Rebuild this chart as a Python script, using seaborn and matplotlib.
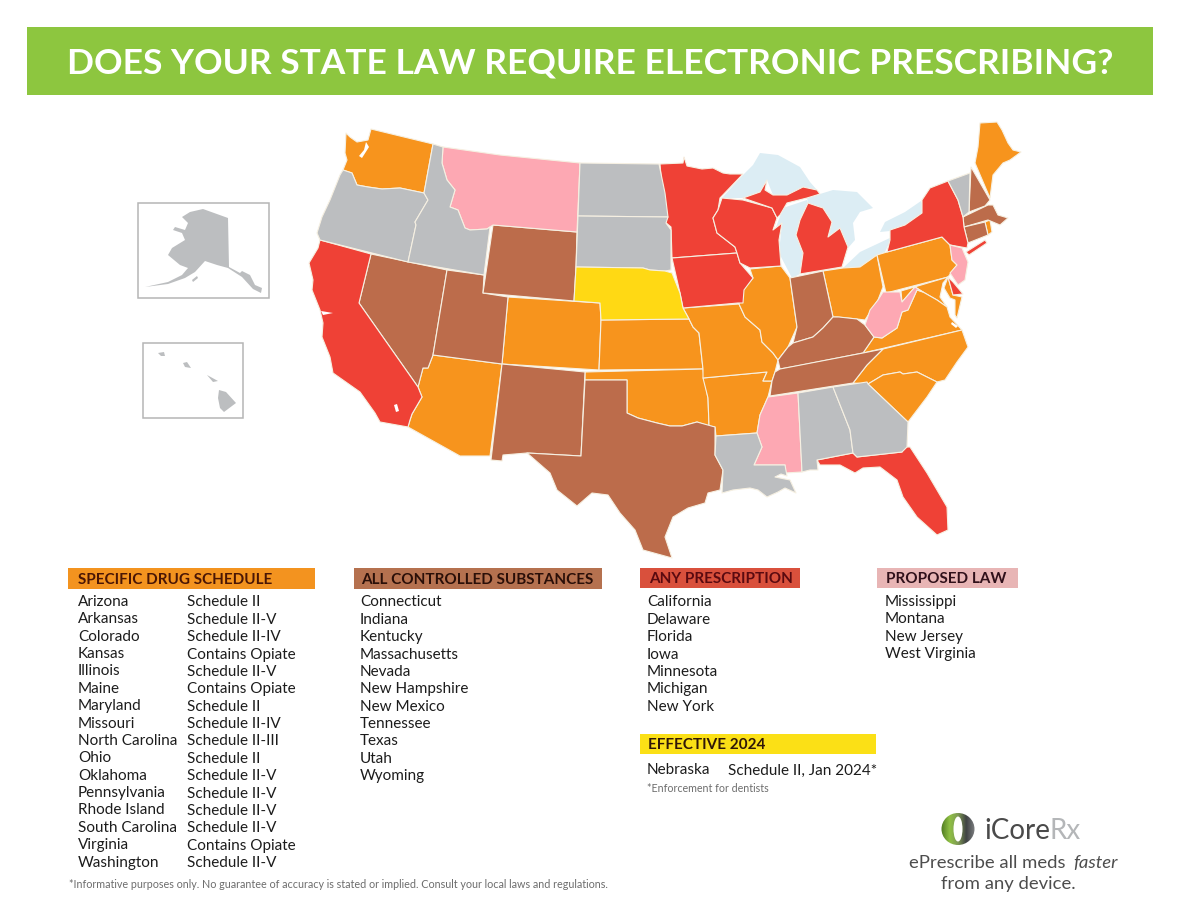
import numpy as np
import matplotlib
matplotlib.use('Agg')
import matplotlib.pyplot as plt
from matplotlib.patches import Ellipse
import seaborn as sns

# outlines, x/y in image pixels
WA = [(346,133),(350,137),(357,142),(368,140),(371,129),(433,144),(424,193),(400,188),(382,189),(368,187),(357,185),(352,173),(343,170),(347,160),(345,153)]
OR = [(343,170),(352,173),(357,185),(368,187),(382,189),(400,188),(424,193),(428,200),(415,222),(416,225),(408,262),(320,240),(317,233),(322,217),(330,200),(340,175)]
ID = [(433,144),(443,147),(442,163),(447,180),(455,190),(450,207),(458,210),(465,228),(470,230),(487,229),(490,227),(484,275),(408,262),(416,225),(415,222),(428,200),(424,193)]
MT = [(443,147),(500,155),(580,163),(577,232),(493,225),(490,227),(487,229),(470,230),(465,228),(458,210),(450,207),(455,190),(447,180),(442,163)]
ND = [(580,163),(659,164),(665,193),(668,217),(578,216)]
SD = [(578,216),(668,217),(666,223),(671,230),(671,270),(665,271),(650,270),(643,268),(576,267)]
WY = [(493,225),(577,232),(576,267),(574,301),(483,293)]
NE = [(576,267),(643,268),(650,270),(665,271),(672,273),(680,293),(683,308),(689,319),(601,320),(600,303),(574,301)]
CO = [(508,297),(600,303),(601,320),(599,370),(502,364)]
KS = [(601,320),(689,319),(693,327),(699,333),(703,369),(599,370)]
UT = [(447,270),(484,275),(483,293),(508,297),(502,364),(433,355)]
NV = [(371,254),(447,270),(433,355),(428,368),(423,368),(418,387),(359,303)]
CA = [(320,240),(371,254),(359,303),(418,387),(422,397),(412,414),(410,420),(408,427),(380,422),(375,413),(360,392),(333,373),(330,357),(322,337),(323,323),(320,310),(312,290),(313,280),(309,263),(318,248)]
AZ = [(433,355),(502,364),(490,456),(460,456),(408,427),(410,420),(412,414),(422,397),(418,387),(423,368),(428,368)]
NM = [(502,364),(585,372),(581,456),(527,453),(503,455),(502,461),(491,460)]
TX = [(585,380),(627,380),(627,413),(638,418),(657,423),(670,426),(682,426),(697,422),(715,427),(715,455),(723,470),(720,490),(708,493),(705,503),(688,508),(673,517),(665,537),(672,558),(643,550),(635,530),(620,513),(608,495),(592,493),(577,506),(557,490),(550,473),(527,453),(581,456)]
OK = [(585,372),(703,369),(704,378),(708,398),(709,426),(697,422),(682,426),(670,426),(657,423),(638,418),(627,413),(627,380),(585,380)]
MN = [(660,164),(683,163),(684,157),(687,166),(702,169),(713,168),(723,173),(730,174),(743,174),(720,198),(718,210),(713,218),(717,233),(735,247),(737,253),(672,258),(671,227),(665,222),(667,215),(662,187)]
IA = [(672,258),(737,253),(740,263),(753,278),(744,290),(743,303),(738,303),(683,308),(680,293)]
WI = [(722,198),(743,200),(772,208),(777,218),(773,230),(782,223),(779,240),(781,266),(750,268),(740,263),(737,253),(735,247),(717,233),(713,218),(718,210)]
MI_UP = [(743,198),(760,192),(767,180),(765,190),(773,195),(787,195),(803,187),(817,190),(820,194),(807,198),(787,203),(780,215),(777,218),(772,208)]
MI_LOW = [(808,203),(823,208),(832,222),(828,237),(840,228),(848,247),(842,267),(800,274),(803,253),(796,235),(800,220)]
IL = [(750,269),(781,266),(790,278),(797,327),(788,347),(778,360),(773,353),(762,342),(760,330),(745,317),(739,304),(743,290),(753,278)]
IN = [(790,278),(823,271),(833,317),(823,328),(813,337),(793,343),(797,327)]
OH = [(823,271),(843,268),(860,267),(877,255),(883,287),(878,300),(865,320),(857,319),(837,317),(833,317)]
KY = [(833,317),(839,317),(857,319),(865,325),(874,337),(863,353),(797,366),(780,369),(778,360),(788,347),(793,343),(813,337),(823,328)]
TN = [(780,369),(863,353),(883,349),(867,365),(853,383),(770,396),(772,381),(775,372)]
MO = [(683,308),(739,304),(745,317),(760,330),(762,342),(773,353),(778,360),(775,372),(772,381),(763,381),(767,372),(703,378),(703,369),(699,333),(693,327),(689,319)]
AR = [(703,378),(767,372),(763,381),(772,381),(768,397),(760,415),(757,433),(716,436),(715,427),(709,426),(708,398)]
LA = [(716,436),(757,433),(762,447),(754,465),(785,465),(787,476),(781,474),(775,477),(790,480),(796,493),(785,488),(778,492),(767,497),(758,490),(750,488),(733,490),(722,493),(723,470),(715,455)]
MS = [(768,397),(798,393),(802,472),(785,473),(785,465),(754,465),(762,447),(757,433),(760,415)]
AL = [(798,393),(833,387),(850,430),(853,453),(817,460),(818,470),(810,470),(802,472)]
GA = [(833,387),(867,382),(868,384),(908,422),(907,447),(902,452),(857,457),(853,453),(850,430)]
FL = [(817,460),(853,453),(857,457),(902,452),(902,447),(910,447),(927,473),(947,507),(948,530),(937,535),(917,517),(903,497),(897,480),(880,467),(863,468),(855,473),(840,465),(820,465)]
SC = [(868,384),(883,375),(900,372),(903,374),(917,372),(937,382),(927,397),(908,422)]
NC = [(883,349),(962,330),(968,347),(957,362),(945,380),(937,382),(917,372),(903,374),(900,372),(883,375),(868,384),(853,383),(867,365)]
VA = [(863,353),(874,337),(882,338),(897,328),(902,312),(908,310),(917,290),(923,292),(937,300),(947,307),(950,317),(962,330)]
WV = [(883,292),(900,292),(902,302),(915,287),(923,292),(917,290),(908,310),(902,312),(897,328),(882,338),(874,337),(865,325),(870,310),(878,300)]
PA = [(877,255),(887,252),(942,237),(950,245),(952,260),(957,265),(948,277),(886,293)]
MD_W = [(901,291),(948,277),(943,283),(940,297),(947,307),(937,300),(923,292),(915,287),(902,302)]
MD_E = [(948,277),(953,295),(962,297),(957,318),(955,315),(955,300),(950,298),(944,288)]
DE = [(948,277),(953,282),(963,294),(953,295)]
NJ = [(950,245),(962,248),(968,262),(965,280),(958,285),(950,273),(957,265),(952,260)]
NY = [(948,181),(958,200),(963,217),(964,227),(968,243),(967,248),(950,245),(942,237),(887,252),(890,240),(890,230),(905,225),(922,213),(922,200),(930,188)]
LONG_ISLAND = [(966,252),(985,240),(987,243),(969,255)]
VT = [(948,181),(970,173),(969,212),(963,217),(958,200)]
NH = [(971,167),(990,200),(985,206),(969,212)]
ME = [(980,123),(997,122),(1002,130),(1008,143),(1013,150),(1021,152),(1010,160),(1003,163),(993,175),(990,198),(975,163),(978,147)]
MA = [(963,217),(988,205),(993,205),(998,215),(1008,218),(1000,225),(988,220),(964,227)]
CT = [(964,227),(985,222),(988,235),(968,243)]
RI = [(985,222),(990,220),(992,232),(988,235)]
AK = [(182,217),(190,212),(203,209),(228,218),(229,267),(240,273),(242,271),(250,275),(255,285),(262,288),(261,293),(253,289),(242,277),(228,268),(217,265),(205,261),(195,272),(185,278),(168,284),(145,287),(168,282),(182,275),(188,268),(180,265),(168,255),(172,248),(185,240),(182,233),(173,230),(175,227),(185,230),(188,223),(183,218)]
KODIAK = [(192,280),(197,276),(198,278),(193,282)]
HI_BIG = [(219,390),(226,392),(236,403),(224,412),(220,408),(218,398)]
HI_MAUI = [(207,375),(218,381),(213,382)]
HI_OAHU = [(183,363),(187,362),(191,368),(185,367)]
HI_KAUAI = [(158,353),(164,352),(165,356),(161,356)]

SUPERIOR = [(722,198),(740,178),(753,165),(760,153),(778,155),(800,167),(810,182),(817,190),(803,187),(787,195),(773,195),(767,180),(760,192),(743,198)]
MICHIGAN = [(807,200),(783,208),(775,230),(782,223),(779,253),(792,278),(800,274),(803,253),(796,235),(800,220),(808,203)]
HURON = [(820,194),(833,190),(857,192),(873,208),(860,212),(853,223),(855,240),(848,248),(840,228),(828,237),(832,222),(823,208),(808,203),(807,198)]
ERIE = [(843,268),(860,252),(892,237),(885,252),(877,255),(860,267),(847,270)]
ONTARIO = [(880,232),(885,222),(905,212),(921,201),(925,210),(921,214),(905,225),(890,231)]
INLETS = [[(366,142),(369,147),(362,158),(359,156),(364,150)], [(394,405),(397,404),(399,411),(396,412)], [(321,311),(333,313),(323,315)], [(952,322),(958,326),(956,328),(951,324)]]

ORANGE_STATES = [WA, AZ, CO, KS, OK, AR, MO, IL, OH, PA, MD_W, MD_E, VA, NC, SC, ME, RI]
BROWN_STATES = [NV, UT, WY, NM, TX, IN, KY, TN, NH, MA, CT]
RED_STATES = [CA, MN, IA, WI, MI_UP, MI_LOW, NY, LONG_ISLAND, FL, DE]
PINK_STATES = [MT, MS, WV, NJ]
GRAY_STATES = [OR, ID, ND, SD, LA, AL, GA, VT]
YELLOW_STATES = [NE]
LAKES = [SUPERIOR, MICHIGAN, HURON, ERIE, ONTARIO]
ALASKA_PARTS = [AK, KODIAK]
HAWAII_PARTS = [HI_BIG, HI_MAUI, HI_OAHU, HI_KAUAI]

specific_names = ['Arizona', 'Arkansas', 'Colorado', 'Kansas', 'Illinois', 'Maine', 'Maryland', 'Missouri',
                  'North Carolina', 'Ohio', 'Oklahoma', 'Pennsylvania', 'Rhode Island', 'South Carolina',
                  'Virginia', 'Washington']
specific_sched = ['Schedule II', 'Schedule II-V', 'Schedule II-IV', 'Contains Opiate', 'Schedule II-V',
                  'Contains Opiate', 'Schedule II', 'Schedule II-IV', 'Schedule II-III', 'Schedule II',
                  'Schedule II-V', 'Schedule II-V', 'Schedule II-V', 'Schedule II-V', 'Contains Opiate',
                  'Schedule II-V']
controlled_names = ['Connecticut', 'Indiana', 'Kentucky', 'Massachusetts', 'Nevada', 'New Hampshire',
                    'New Mexico', 'Tennessee', 'Texas', 'Utah', 'Wyoming']
any_names = ['California', 'Delaware', 'Florida', 'Iowa', 'Minnesota', 'Michigan', 'New York']
proposed_names = ['Mississippi', 'Montana', 'New Jersey', 'West Virginia']

sns.set_theme(style='white')
plt.rcParams['font.family'] = ['Lato', 'DejaVu Sans']
palette = sns.color_palette(['#f7941d', '#bc6c4b', '#ef4136', '#fda8b3', '#bcbec0', '#ffd914'])
c_orange, c_brown, c_red, c_pink, c_gray, c_yellow = palette
border = '#f6f0e2'
ink = '#1c1c1c'

fig = plt.figure(figsize=(11.8, 9.11), dpi=100)
ax = fig.add_axes([0, 0, 1, 1])


def draw_states(shapes, color, edge=border, lw=0.8):
    for shape in shapes:
        xs, ys = zip(*shape)
        ax.fill(xs, ys, facecolor=color, edgecolor=edge, linewidth=lw, joinstyle='round')


def box(x0, y0, x1, y1, **kw):
    ax.fill([x0, x1, x1, x0], [y0, y0, y1, y1], **kw)


# banner
box(27, 27, 1153, 95, facecolor='#8dc63f', edgecolor='none')
ax.text(590.5, 63, 'DOES YOUR STATE LAW REQUIRE ELECTRONIC PRESCRIBING?', color='white',
        fontsize=25.5, fontweight='bold', ha='center', va='center')

# map
draw_states(LAKES, '#dcedf4', edge='none', lw=0)
draw_states(ORANGE_STATES, c_orange)
draw_states(BROWN_STATES, c_brown)
draw_states(RED_STATES, c_red)
draw_states(PINK_STATES, c_pink)
draw_states(GRAY_STATES, c_gray)
draw_states(YELLOW_STATES, c_yellow)
draw_states(INLETS, 'white', edge='none', lw=0)

# insets
box(138, 203, 269, 298, facecolor='white', edgecolor='#b5b5b5', linewidth=1.1)
box(143, 343, 243, 418, facecolor='white', edgecolor='#b5b5b5', linewidth=1.1)
draw_states(ALASKA_PARTS, c_gray, edge='none', lw=0)
draw_states(HAWAII_PARTS, c_gray, edge='none', lw=0)

# legend headers
body_size = 11.0
header_size = 11.0
headers = [(68, 315, 568, 589, '#f3931f', 'SPECIFIC DRUG SCHEDULE', 78, '#4a1605'),
           (354, 602, 568, 589, '#b5714f', 'ALL CONTROLLED SUBSTANCES', 361, '#2a0f08'),
           (640, 800, 568, 588, '#d9503c', 'ANY PRESCRIPTION', 649, '#5a0a10'),
           (877, 1018, 568, 588, '#e8b5b5', 'PROPOSED LAW', 886, '#30101a'),
           (640, 876, 734, 754, '#fbe016', 'EFFECTIVE 2024', 648, '#301808')]
for x0, x1, y0, y1, col, label, tx, tc in headers:
    box(x0, y0, x1, y1, facecolor=col, edgecolor='none')
    ax.text(tx, (y0 + y1) / 2 + 1, label, fontsize=header_size, fontweight='bold', color=tc,
            ha='left', va='center')

# legend lists
row_h = 17.37
for i, (name, sched) in enumerate(zip(specific_names, specific_sched)):
    ax.text(78, 602 + i * row_h, name, fontsize=body_size, color=ink, va='center')
    ax.text(187, 602.5 + i * row_h, sched, fontsize=body_size, color=ink, va='center')
for i, name in enumerate(controlled_names):
    ax.text(360, 602.5 + i * row_h, name, fontsize=body_size, color=ink, va='center')
for i, name in enumerate(any_names):
    ax.text(647, 602.5 + i * row_h, name, fontsize=body_size, color=ink, va='center')
for i, name in enumerate(proposed_names):
    ax.text(885, 602 + i * row_h, name, fontsize=body_size, color=ink, va='center')

ax.text(647, 770.5, 'Nebraska', fontsize=body_size, color=ink, va='center')
ax.text(728, 770.5, 'Schedule II, Jan 2024*', fontsize=body_size, color=ink, va='center')
ax.text(647, 789, '*Enforcement for dentists', fontsize=7.7, color='#6d6d6d', va='center')
ax.text(69, 884, '*Informative purposes only. No guarantee of accuracy is stated or implied. '
        'Consult your local laws and regulations.', fontsize=7.75, color='#6d6d6d', va='center')

# logo
ring = Ellipse((958, 829), 33, 32, transform=ax.transData, facecolor='none', edgecolor='none')
ax.add_patch(ring)
gradient = np.linspace(0, 1, 64).reshape(1, -1)
cmap = matplotlib.colors.LinearSegmentedColormap.from_list(
    'logo', ['#4f7a22', '#8fc043', '#7f9a55', '#3f4244', '#7c7e80'])
img = ax.imshow(gradient, extent=(941, 975, 846, 812), cmap=cmap, aspect='auto', zorder=3)
img.set_clip_path(ring)
ax.add_patch(Ellipse((958, 829), 9, 25, facecolor='white', edgecolor='none', zorder=4))
ax.text(984, 831, 'iCore', fontsize=20, color='#4a4a4a', va='center')
ax.text(1049, 831, 'Rx', fontsize=20, color='#b4b6b8', va='center')
ax.text(909, 862.5, 'ePrescribe all meds', fontsize=13.3, color='#4d4d4d', va='center')
ax.text(1118, 862.5, 'faster', fontsize=13.3, color='#4d4d4d', va='center', ha='right', style='italic')
ax.text(1008, 884.5, 'from any device.', fontsize=13.3, color='#4d4d4d', va='center', ha='center')

ax.set_xlim(0, 1180)
ax.set_ylim(911, 0)
ax.axis('off')
fig.savefig('out.png', dpi=100, facecolor='white')
